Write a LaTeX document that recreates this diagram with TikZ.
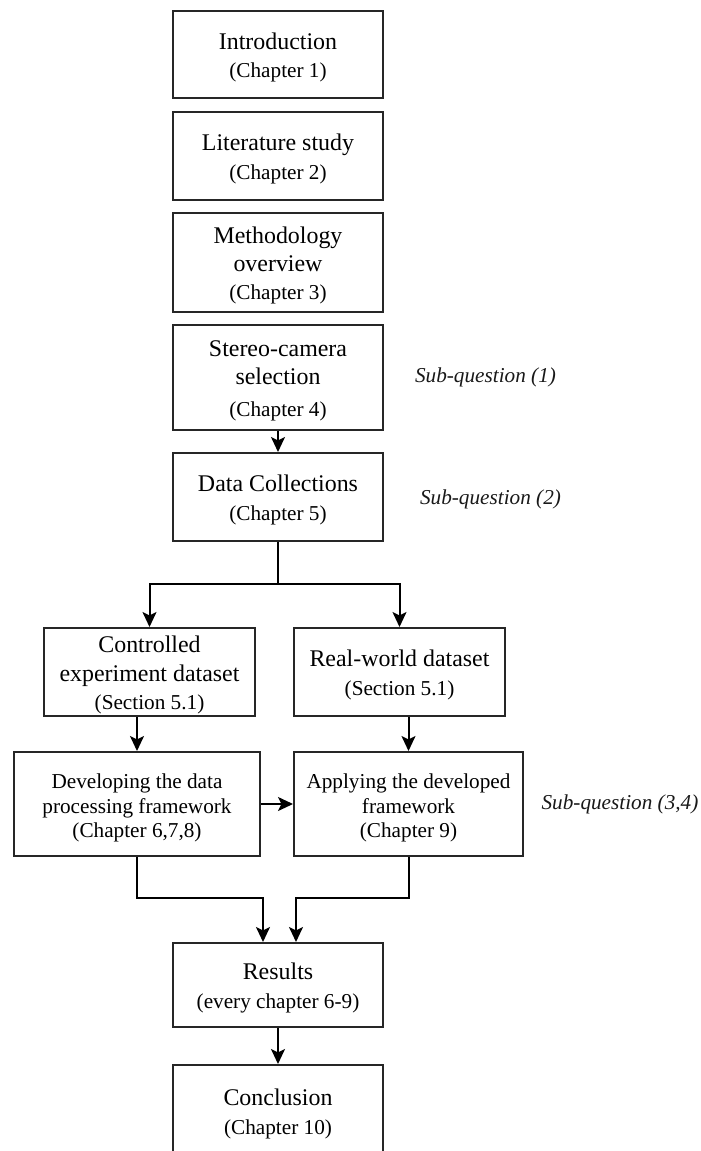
\documentclass[tikz,border=0pt]{standalone}
\usepackage{fontspec}
\setmainfont{Liberation Serif}
\usetikzlibrary{arrows.meta,calc}

% type sizes used inside the boxes
\newcommand{\bxhead}{\fontsize{24}{28.5}\selectfont}
\newcommand{\bxsub}{\fontsize{21.3}{28.5}\selectfont}
\newcommand{\bxsmall}{\fontsize{21.3}{24.5}\selectfont}
% a little extra room above the first line of each box
\newcommand{\topgap}{\rule{0pt}{22.5bp}}

\tikzset{
  stage/.style={draw=black!85, line width=2bp, rectangle, inner sep=0pt,
    align=center, font=\bxhead, text=black},
  colbox/.style={stage, minimum width=210bp},
  note/.style={inner sep=0pt, font=\bxsub\itshape, text=black!90},
  link/.style={draw=black, line width=2bp},
  arr/.style={link, -{Stealth[length=15bp,width=14bp,inset=3.5bp]}}
}

\begin{document}
\begin{tikzpicture}[x=1bp, y=-1bp]
\useasboundingbox (0,0) rectangle (701,1151);
\clip (0,0) rectangle (701,1151);
\fill[white] (0,0) rectangle (701,1151);

% main column of chapters
\node[colbox, minimum height=87bp] (intro) at (278,54.5)
  {\topgap Introduction\\{\bxsub (Chapter 1)}};
\node[colbox, minimum height=88bp] (lit) at (278,156)
  {\topgap Literature study\\{\bxsub (Chapter 2)}};
\node[colbox, minimum height=99bp] (meth) at (278,262.5)
  {\topgap Methodology\\overview\\{\bxsub (Chapter 3)}};
\node[colbox, minimum height=105bp] (stereo) at (278,377.5)
  {\topgap Stereo-camera\\selection\\[3bp]{\bxsub (Chapter 4)}};
\node[colbox, minimum height=88bp] (data) at (278,497)
  {\topgap Data Collections\\{\bxsub (Chapter 5)}};

% the two datasets
\node[stage, minimum width=211bp, minimum height=88bp] (ctrl) at (149.5,672)
  {\topgap Controlled\\experiment dataset\\{\bxsub (Section 5.1)}};
\node[stage, minimum width=211bp, minimum height=88bp] (real) at (399.5,672)
  {\topgap Real-world dataset\\[1bp]{\bxsub (Section 5.1)}};

% framework development and application
\node[stage, font=\bxsmall, minimum width=246bp, minimum height=104bp] (dev) at (137,804)
  {\topgap Developing the data\\processing framework\\(Chapter 6,7,8)};
\node[stage, font=\bxsmall, minimum width=229bp, minimum height=104bp] (apply) at (408.5,804)
  {\topgap Applying the developed\\framework\\(Chapter 9)};

% results and conclusion
\node[colbox, minimum height=84bp] (res) at (278,985)
  {\topgap Results\\{\bxsub (every chapter 6-9)}};
\node[colbox, minimum height=92bp] (concl) at (278,1111)
  {\topgap Conclusion\\{\bxsub (Chapter 10)}};

% research sub-questions
\node[note] (sq1) at (485.5,377) {Sub-question (1)};
\node[note] (sq2) at (490.5,499) {Sub-question (2)};
\node[note] (sq34) at (620,804) {Sub-question (3,4)};

% connectors
\draw[arr] (stereo.south) -- (data.north);
\coordinate (split) at (278,584);
\draw[link] (data.south) -- (split);
\draw[arr] (split) -| (ctrl.north);
\draw[arr] (split) -| (real.north);
\draw[arr] (ctrl.south -| dev.north) -- (dev.north);
\draw[arr] (real.south -| apply.north) -- (apply.north);
\draw[arr] (dev.east) -- (apply.west);
\coordinate (inL) at ($(res.north)+(-15,0)$);
\coordinate (inR) at ($(res.north)+(18,0)$);
\draw[arr] (dev.south) |- ($(inL)+(0,-44)$) -- (inL);
\draw[arr] (apply.south) |- ($(inR)+(0,-44)$) -- (inR);
\draw[arr] (res.south) -- (concl.north);
\end{tikzpicture}
\end{document}
